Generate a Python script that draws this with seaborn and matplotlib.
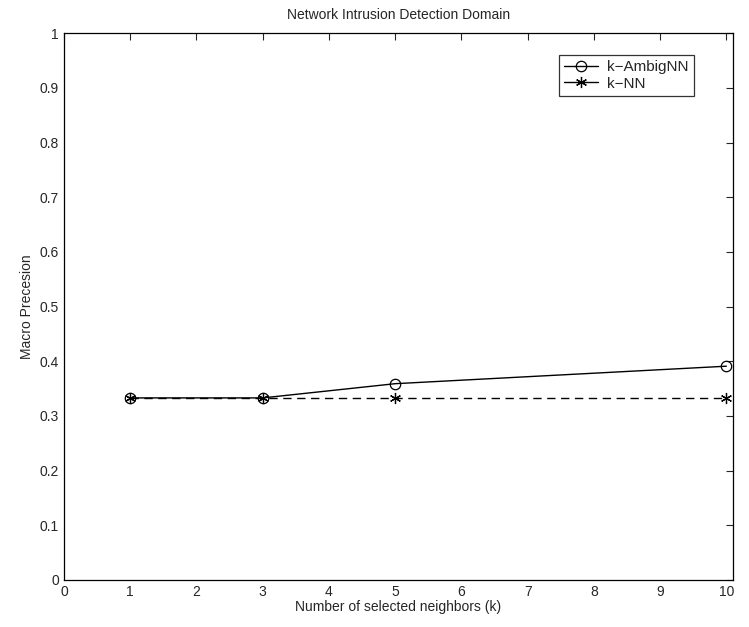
import pandas as pd
import numpy as np
import matplotlib.pyplot as plt
import seaborn as sns

# values
k_values = [1, 3, 5, 10]
ambig_nn = [0.333, 0.333, 0.359, 0.391]
knn = [0.333, 0.333, 0.333, 0.333]
series_names = ['k\u2212AmbigNN', 'k\u2212NN']

sns.set_style('white')
plt.rcParams['font.family'] = ['Liberation Sans', 'DejaVu Sans']
plt.rcParams['font.size'] = 10

fig = plt.figure(figsize=(7.49, 6.27), dpi=100)
ax = fig.add_axes([0.0854, 0.075, 0.8932, 0.872])

# k-AmbigNN: solid line, open circles
sns.lineplot(x=k_values, y=ambig_nn, color='black', linewidth=1,
             marker='o', markersize=7.5, markerfacecolor='none',
             markeredgecolor='black', markeredgewidth=0.9,
             label=series_names[0], ax=ax)
# k-NN: dashed line, asterisks
sns.lineplot(x=k_values, y=knn, color='black', linewidth=1, dashes=(6, 4),
             marker=(6, 2, 0), markersize=8, markeredgecolor='black',
             markeredgewidth=0.9, label=series_names[1], ax=ax)

ax.set_xlim(0, 10.1)
ax.set_ylim(0, 1)
ax.set_xticks(range(0, 11))
ax.set_yticks(np.round(np.arange(0, 1.01, 0.1), 1))
ax.set_yticklabels(['0'] + [f'{v:.1f}' for v in np.arange(0.1, 0.95, 0.1)] + ['1'])
ax.tick_params(direction='in', top=True, right=True, length=5, width=0.8, labelsize=10)
for s in ax.spines.values():
    s.set_linewidth(0.9)
    s.set_color('black')

ax.set_xlabel('Number of selected neighbors (k)', fontsize=10, labelpad=1)
ax.set_ylabel('Macro Precesion', fontsize=10, labelpad=4)
ax.set_title('Network Intrusion Detection Domain', fontsize=10, pad=10)

leg = ax.legend(loc='upper right', bbox_to_anchor=(0.953, 0.974), frameon=True,
                fancybox=False, edgecolor='black', fontsize=11, handlelength=2.2,
                borderpad=0.35, labelspacing=0.15, handletextpad=0.6)
leg.get_frame().set_linewidth(0.9)
leg.get_lines()[1].set_linestyle('-')

fig.savefig('out.png', dpi=100)
